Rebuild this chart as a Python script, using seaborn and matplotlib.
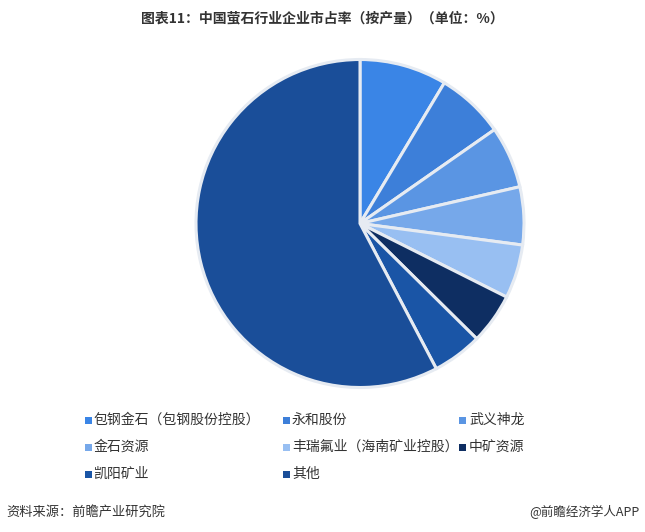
import matplotlib
matplotlib.use("Agg")
import matplotlib.pyplot as plt
import seaborn as sns
from matplotlib.patches import Rectangle

sns.set_theme(style="white")
plt.rcParams['font.family'] = ['Noto Sans CJK SC', 'DejaVu Sans']

companies = ["包钢金石（包钢股份控股）", "永和股份", "武义神龙", "金石资源",
             "丰瑞氟业（海南矿业控股）", "中矿资源", "凯阳矿业", "其他"]
shares = [8.6, 6.7, 6.1, 5.7, 5.3, 5.0, 4.9, 57.7]
colors = ["#3A85E6", "#3D7FD9", "#5A95E3", "#76A8EA", "#98BFF2", "#0E2E62", "#1A55A6", "#1A4E99"]
palette = sns.color_palette(colors)

W, H = 645, 532
fig = plt.figure(figsize=(W / 100, H / 100), dpi=100)
fig.patch.set_facecolor("white")

cx, cy, r = 360, 223.5, 164
ax = fig.add_axes([(cx - r) / W, 1 - (cy + r) / H, 2 * r / W, 2 * r / H])
ax.pie(shares, colors=palette, startangle=90, counterclock=False, radius=1,
       wedgeprops=dict(edgecolor="#E6EBF2", linewidth=2.2))
ax.set_xlim(-1.0, 1.0)
ax.set_ylim(-1.0, 1.0)
ax.set_aspect("equal")
ax.axis("off")

fig.text(0.5, 1 - 18 / H, "图表11：中国萤石行业企业市占率（按产量）（单位：%）",
         ha="center", va="center", fontsize=10, fontweight="bold", color="#333333")

col_x = [88, 286, 463]
row_y = [420, 447, 474]
for i, (name, c) in enumerate(zip(companies, palette)):
    row, col = divmod(i, 3)
    x, y = col_x[col], row_y[row]
    fig.patches.append(Rectangle(((x - 3.5) / W, 1 - (y + 3.5) / H), 7 / W, 7 / H,
                                 transform=fig.transFigure, facecolor=c, edgecolor="none"))
    fig.text((x + 6) / W, 1 - y / H, name, ha="left", va="center",
             fontsize=10, color="#333333")

fig.text(6 / W, 1 - 512 / H, "资料来源：前瞻产业研究院", ha="left", va="center",
         fontsize=9.5, color="#333333")
fig.text(640 / W, 1 - 512 / H, "@前瞻经济学人APP", ha="right", va="center",
         fontsize=9, color="#333333")

fig.savefig("out.png", dpi=100, facecolor="white")
